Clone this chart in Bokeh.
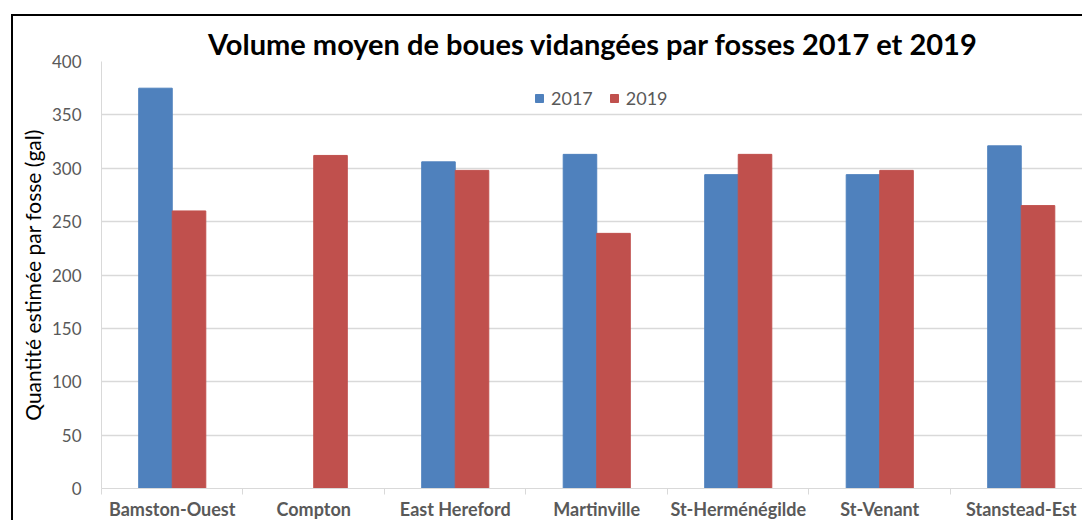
from bokeh.plotting import figure
from bokeh.models import Range1d, FixedTicker, Legend, LegendItem, ColumnDataSource
from bokeh.transform import dodge
from bokeh.embed import file_html
from bokeh.resources import INLINE

# ---- data ----
categories = ["Bamston-Ouest", "Compton", "East Hereford", "Martinville",
              "St-Herménégilde", "St-Venant", "Stanstead-Est"]
vol_2017 = [375, float("nan"), 306, 313, 294, 294, 321]
vol_2019 = [260, 312, 298, 239, 313, 298, 265]
series_names = ["2017", "2019"]
y_ticks = [0, 50, 100, 150, 200, 250, 300, 350, 400]
title_text = "Volume moyen de boues vidangées par fosses 2017 et 2019"
y_label = "Quantité estimée par fosse (gal)"

FONT = "Lato"
BLUE = "#4f81bd"
RED = "#c0504d"
GRID = "#d9d9d9"
LABEL = "#595959"

pos = [i + 0.5 for i in range(len(categories))]
src = ColumnDataSource(dict(x=pos, v17=vol_2017, v19=vol_2019))

p = figure(width=1071, height=506,
           x_range=Range1d(0, 6.947), y_range=Range1d(0, 400),
           output_backend="svg", toolbar_location=None,
           min_border_left=88, min_border_top=45, min_border_right=0,
           min_border_bottom=0, outline_line_color=None)
# chart frame border: only top and left edges visible in the crop
p.styles = {"margin-left": "11px", "margin-top": "14px",
            "border-left": "2px solid #000", "border-top": "2px solid #000"}

bw = 0.237
r17 = p.vbar(x=dodge("x", -bw / 2, range=p.x_range), top="v17", width=bw,
             source=src, fill_color=BLUE, line_color=BLUE)
r19 = p.vbar(x=dodge("x", bw / 2, range=p.x_range), top="v19", width=bw,
             source=src, fill_color=RED, line_color=RED)

# title
p.title.text = title_text
p.title.align = "center"
p.title.text_font = FONT
p.title.text_font_size = "29px"
p.title.text_font_style = "bold"
p.title.text_color = "#000000"
p.title.standoff = 2

# y axis
yax = p.yaxis[0]
yax.ticker = FixedTicker(ticks=y_ticks)
yax.axis_line_color = GRID
yax.major_tick_line_color = None
yax.minor_tick_line_color = None
yax.major_label_text_font = FONT
yax.major_label_text_font_size = "17px"
yax.major_label_text_color = LABEL
yax.major_label_standoff = 14
yax.axis_label = y_label
yax.axis_label_text_font = FONT
yax.axis_label_text_font_size = "21px"
yax.axis_label_text_font_style = "normal"
yax.axis_label_text_color = "#000000"
yax.axis_label_standoff = 4

# x axis
xax = p.xaxis[0]
xax.ticker = FixedTicker(ticks=pos, minor_ticks=list(range(len(categories) + 1)))
xax.major_label_overrides = {x: c for x, c in zip(pos, categories)}
xax.axis_line_color = GRID
xax.major_tick_line_color = None
xax.major_tick_out = 0
xax.minor_tick_line_color = GRID
xax.minor_tick_out = 6
xax.minor_tick_in = 0
xax.major_label_text_font = FONT
xax.major_label_text_font_size = "18px"
xax.major_label_text_font_style = "bold"
xax.major_label_text_color = LABEL
xax.major_label_standoff = 3

p.xgrid.grid_line_color = None
p.ygrid.grid_line_color = GRID
p.ygrid.grid_line_width = 1.5

legend = Legend(items=[LegendItem(label=series_names[0], renderers=[r17]),
                       LegendItem(label=series_names[1], renderers=[r19])],
                location=(433, 379), orientation="horizontal",
                border_line_color=None, background_fill_alpha=0,
                glyph_width=10, glyph_height=10, label_standoff=7, spacing=16,
                padding=0, margin=0,
                label_text_font=FONT, label_text_font_size="18px",
                label_text_color=LABEL)
p.add_layout(legend)

open("out.html", "w").write(file_html(p, INLINE))
